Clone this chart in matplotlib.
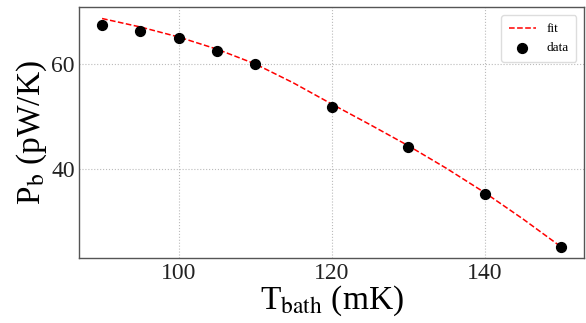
import matplotlib
matplotlib.use('Agg')
import matplotlib.pyplot as plt

# data
t_data = [90, 95, 100, 105, 110, 120, 130, 140, 150]
p_data = [67.4, 66.3, 65.0, 62.5, 60.0, 51.8, 44.2, 35.4, 25.3]

t_fit = [90, 95, 100, 105, 110, 115, 120, 125, 130, 135, 140, 145, 150]
p_fit = [68.6, 67.0, 65.1, 62.8, 60.0, 56.4, 52.4, 48.5, 44.5, 40.2, 35.6, 30.6, 25.3]

plt.rcParams['font.family'] = ['Liberation Serif', 'DejaVu Serif']
plt.rcParams['mathtext.fontset'] = 'stix'

fig, ax = plt.subplots(figsize=(5.86, 3.23), dpi=100)
ax.plot(t_fit, p_fit, '--', color='red', lw=1.1, label='fit')
ax.scatter(t_data, p_data, s=50, color='black', zorder=3, label='data')

ax.set_xticks([100, 120, 140])
ax.set_yticks([40, 60])
ax.tick_params(direction='in', labelsize=17, length=0, colors='#222222', pad=3)
ax.grid(True, ls=':', color='#bbbbbb', lw=0.8)
for s in ax.spines.values():
    s.set_color('#555555')
    s.set_linewidth(1.0)

ax.set_xlabel(r'T$_{\rm bath}$ (mK)', fontsize=24, labelpad=0)
ax.set_ylabel(r'P$_{\rm b}$ (pW/K)', fontsize=24, labelpad=2)
ax.legend(loc='upper right', fontsize=9.5, framealpha=1, edgecolor='#dddddd',
          handlelength=2.0, borderpad=0.6, borderaxespad=0.6)

fig.subplots_adjust(left=0.135, right=0.997, top=0.978, bottom=0.2)
fig.savefig('out.png', dpi=100)
